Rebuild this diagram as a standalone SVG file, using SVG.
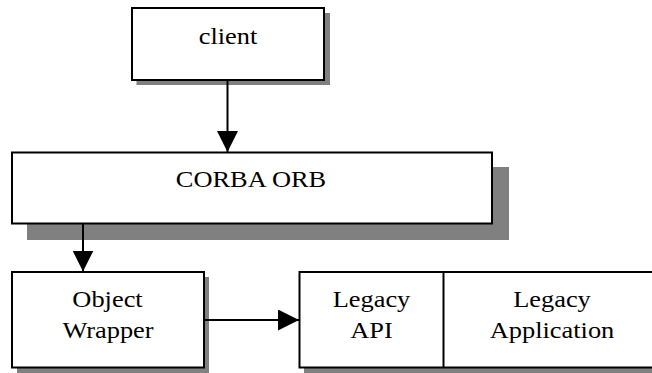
<svg xmlns="http://www.w3.org/2000/svg" width="652" height="373" viewBox="0 0 652 373">
  <defs>
    <style>
      .shadow { fill: #808080; stroke: none; }
      .box { fill: #ffffff; stroke: #000000; stroke-width: 2; }
      .edge { stroke: #000000; stroke-width: 2; fill: none; }
    </style>
    <marker id="arrow" markerUnits="userSpaceOnUse" markerWidth="22" markerHeight="22" refX="21" refY="10.5" orient="auto">
      <path d="M0,0 L21,10.5 L0,21 Z" fill="#000000"/>
    </marker>
  </defs>

  <rect width="652" height="373" fill="#ffffff"/>

  <!-- client -->
  <g id="client">
    <rect class="shadow" x="136.5" y="13" width="193.5" height="72"/>
    <rect class="box" x="132" y="8" width="192" height="72"/>
    <text font-family="Liberation Serif" font-size="24" text-anchor="middle" fill="#000" transform="translate(228,44) scale(1.1,1)">client</text>
  </g>

  <!-- CORBA ORB -->
  <g id="orb">
    <rect class="shadow" x="27" y="167" width="482" height="73"/>
    <rect class="box" x="12" y="152.5" width="480" height="71"/>
    <text font-family="Liberation Serif" font-size="24" text-anchor="middle" fill="#000" transform="translate(251,187) scale(1.1,1)">CORBA ORB</text>
  </g>

  <!-- Object Wrapper -->
  <g id="wrapper">
    <rect class="shadow" x="17" y="277" width="192" height="96"/>
    <rect class="box" x="12" y="272" width="192" height="95.5"/>
    <text font-family="Liberation Serif" font-size="24" text-anchor="middle" fill="#000" transform="translate(107.5,307) scale(1.1,1)">Object</text>
    <text font-family="Liberation Serif" font-size="24" text-anchor="middle" fill="#000" transform="translate(108,338) scale(1.1,1)">Wrapper</text>
  </g>

  <!-- Legacy API + Legacy Application -->
  <g id="legacy">
    <rect class="shadow" x="304" y="277" width="360" height="96"/>
    <rect class="box" x="299.5" y="272" width="360" height="95.5"/>
    <line class="edge" x1="443.5" y1="272" x2="443.5" y2="367.5"/>
    <text font-family="Liberation Serif" font-size="24" text-anchor="middle" fill="#000" transform="translate(371.5,307) scale(1.1,1)">Legacy</text>
    <text font-family="Liberation Serif" font-size="24" text-anchor="middle" fill="#000" transform="translate(371.5,338) scale(1.1,1)">API</text>
    <text font-family="Liberation Serif" font-size="24" text-anchor="middle" fill="#000" transform="translate(552,307) scale(1.1,1)">Legacy</text>
    <text font-family="Liberation Serif" font-size="24" text-anchor="middle" fill="#000" transform="translate(552,338) scale(1.1,1)">Application</text>
  </g>

  <!-- connectors -->
  <g id="connectors">
    <line class="edge" x1="227.5" y1="80" x2="227.5" y2="152" marker-end="url(#arrow)"/>
    <line class="edge" x1="83" y1="223.5" x2="83" y2="271.5" marker-end="url(#arrow)"/>
    <line class="edge" x1="204" y1="320" x2="299" y2="320" marker-end="url(#arrow)"/>
  </g>
</svg>
